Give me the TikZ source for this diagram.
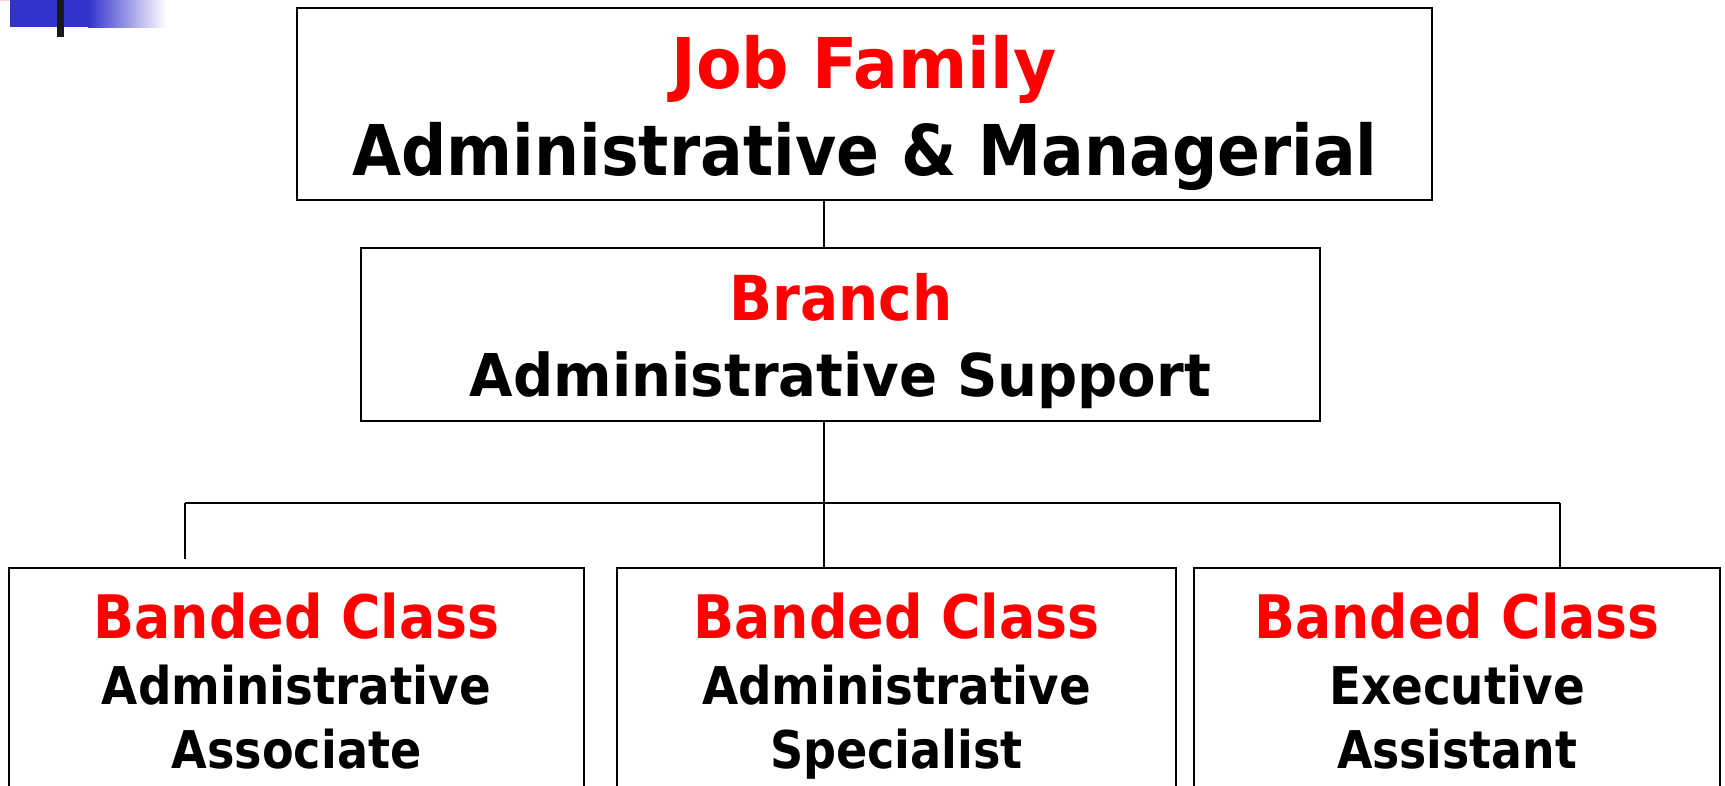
\documentclass[tikz,border=0pt]{standalone}
\usepackage{fontspec}
\setmainfont{DejaVu Sans}
\usepackage{graphicx}
\definecolor{headred}{RGB}{255,0,0}
\definecolor{barblue}{RGB}{51,51,204}
\definecolor{barpink}{RGB}{255,205,205}
% scale a line of text horizontally to a given width, keeping its height
\newcommand\fitw[2]{\resizebox{#1}{\height}{#2}}
\newcommand\sz[1]{\fontsize{#1}{#1}\selectfont\bfseries}

\begin{document}
\begin{tikzpicture}[x=1pt,y=1pt,
  box/.style={draw=black, line width=2pt, inner sep=0pt, outer sep=0pt, fill=white},
  label/.style={anchor=base, inner sep=0pt, outer sep=0pt},
  head/.style={label, text=headred},
  body/.style={label, text=black},
  link/.style={draw=black, line width=2pt}]

\useasboundingbox (0,0) rectangle (1725,786);
\clip (0,0) rectangle (1725,786);
\fill[white] (0,0) rectangle (1725,786);

% corner ornament
\fill[barpink] (0,785) rectangle (42,786);
\fill[barblue] (10,759) rectangle (88,786);
\shade[left color=barblue, right color=white] (88,758) rectangle (166,786);
\fill[black!90] (57,749) rectangle (64,786);

% boxes
\node[box, minimum width=1135, minimum height=192] (fam) at (864.5,682) {};
\node[box, minimum width=959, minimum height=173] (br) at (840.5,451.5) {};
\node[box, minimum width=575, minimum height=240] (c1) at (296.5,98) {};
\node[box, minimum width=559, minimum height=240] (c2) at (896.5,98) {};
\node[box, minimum width=526, minimum height=240] (c3) at (1457,98) {};

% connectors
\coordinate (trunk) at (824,0);
\coordinate (bus) at (0,283);
\coordinate (l1) at (185,0);
\coordinate (l3) at (1560,0);
\coordinate (l1end) at (185,227);
\draw[link] (fam.south -| trunk) -- (br.north -| trunk);
\draw[link] (br.south -| trunk) -- (c2.north -| trunk);
\draw[link] (bus -| l1) -- (bus -| l3);
\draw[link] (bus -| l1) -- (l1end);
\draw[link] (bus -| l3) -- (c3.north -| l3);

% texts
\node[head] (famh) at (864,697) {\fitw{385pt}{\sz{70}Job Family}};
\node[body] (famb) at (865,610) {\fitw{1025pt}{\sz{70}Administrative \& Managerial}};
\node[head] (brh) at (841,465) {\fitw{223pt}{\sz{62}Branch}};
\node[body] (brb) at (840.5,389) {\fitw{741pt}{\sz{59}Administrative Support}};

\node[head] (c1h) at (296.5,147) {\fitw{406pt}{\sz{60}Banded Class}};
\node[body] (c1a) at (296.5,81) {\fitw{389pt}{\sz{52}Administrative}};
\node[body] (c1b) at (296.5,17) {\fitw{250pt}{\sz{52}Associate}};

\node[head] (c2h) at (896.5,147) {\fitw{406pt}{\sz{60}Banded Class}};
\node[body] (c2a) at (896.5,81) {\fitw{389pt}{\sz{52}Administrative}};
\node[body] (c2b) at (896.5,17) {\fitw{253pt}{\sz{52}Specialist}};

\node[head] (c3h) at (1457,147) {\fitw{405pt}{\sz{60}Banded Class}};
\node[body] (c3a) at (1457,81) {\fitw{256pt}{\sz{52}Executive}};
\node[body] (c3b) at (1457,17) {\fitw{240pt}{\sz{52}Assistant}};
\end{tikzpicture}
\end{document}
